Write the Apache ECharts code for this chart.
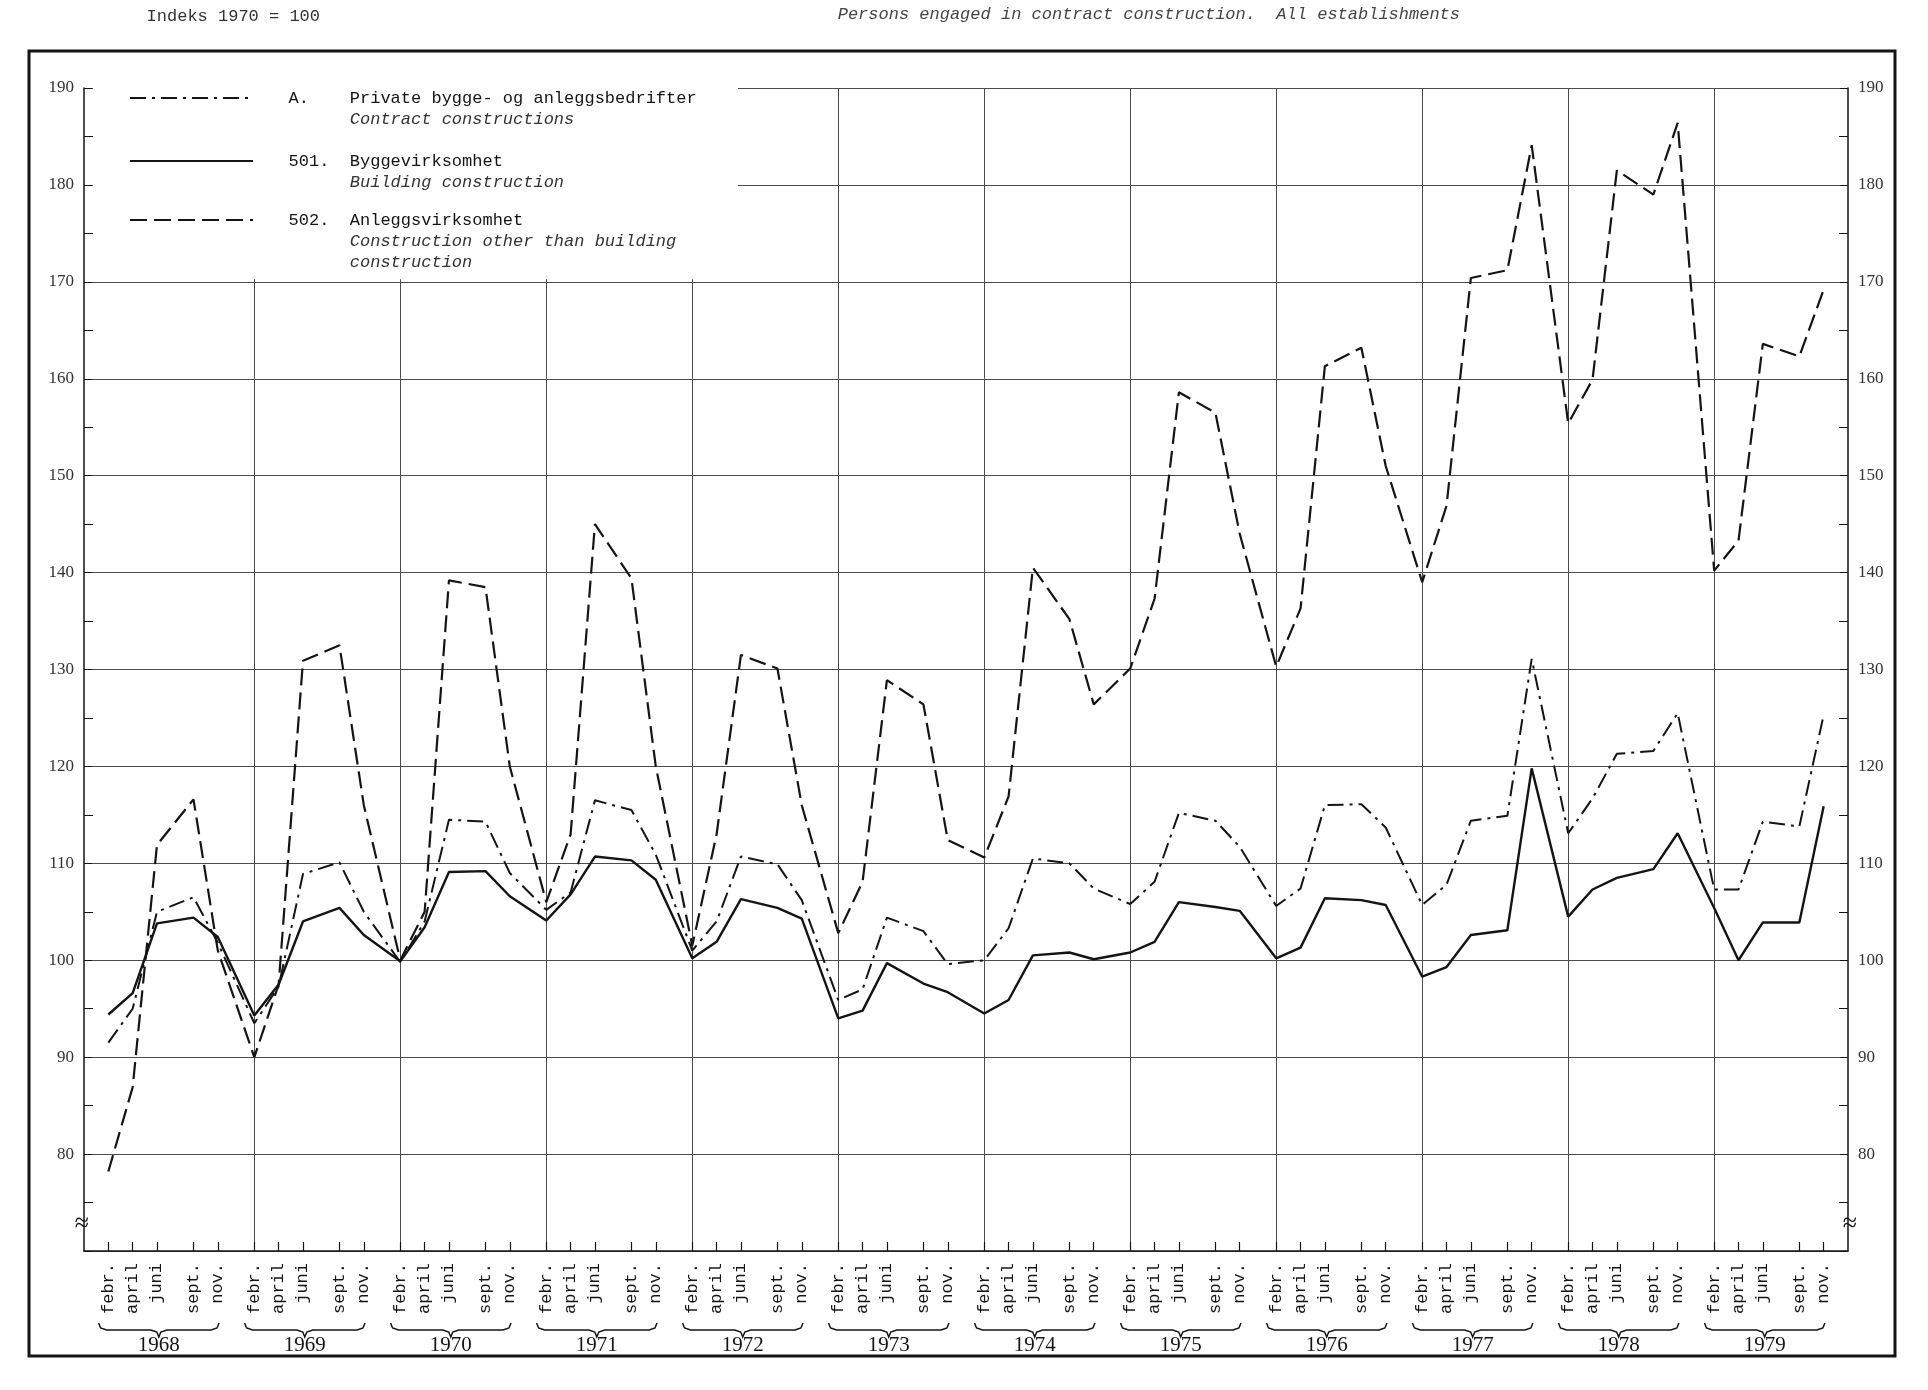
<!DOCTYPE html>
<html>
<head>
<meta charset="utf-8">
<script src="https://cdn.jsdelivr.net/npm/echarts@6/dist/echarts.min.js"></script>
<style>
html,body{margin:0;padding:0;background:#fff;}
#chart{width:1928px;height:1390px;}
</style>
</head>
<body>
<div id="chart"></div>
<script>
// ---------- data ----------
const years = [1968,1969,1970,1971,1972,1973,1974,1975,1976,1977,1978,1979];
const sampleMonths = [2,4,6,9,11];
const monthLabels = ['febr.','april','juni','sept.','nov.'];
const yTickMin = 70, yTickMax = 190, yTickStep = 10;

// A. Private bygge- og anleggsbedrifter (febr, april, juni, sept, nov per year)
const contractA = [
  91.5, 95.0, 105.0, 106.5, 101.8,
  93.5, 97.3, 108.9, 110.1, 105.0,
  99.8, 104.0, 114.5, 114.3, 109.0,
  105.2, 107.0, 116.5, 115.5, 110.9,
  101.0, 104.0, 110.7, 109.9, 106.2,
  95.9, 97.0, 104.4, 103.0, 99.6,
  100.0, 103.3, 110.5, 110.0, 107.4,
  105.8, 108.1, 115.2, 114.4, 111.7,
  105.6, 107.4, 116.0, 116.1, 113.7,
  105.7, 107.8, 114.4, 114.9, 131.1,
  113.1, 116.7, 121.3, 121.6, 125.5,
  107.3, 107.3, 114.3, 113.8, 125.3
];
// 501. Byggevirksomhet
const building501 = [
  94.4, 96.6, 103.8, 104.4, 102.4,
  94.3, 97.5, 104.0, 105.4, 102.6,
  99.9, 103.4, 109.1, 109.2, 106.6,
  104.1, 106.8, 110.7, 110.3, 108.3,
  100.2, 101.9, 106.3, 105.4, 104.3,
  94.0, 94.8, 99.7, 97.6, 96.7,
  94.5, 95.9, 100.5, 100.8, 100.1,
  100.8, 101.9, 106.0, 105.5, 105.1,
  100.2, 101.3, 106.4, 106.2, 105.7,
  98.3, 99.3, 102.6, 103.1, 119.8,
  104.5, 107.3, 108.5, 109.4, 113.1,
  105.4, 100.0, 103.9, 103.9, 115.9
];
// 502. Anleggsvirksomhet
const other502 = [
  78.2, 86.9, 111.9, 116.6, 101.0,
  90.0, 97.5, 130.9, 132.5, 116.0,
  100.0, 105.0, 139.2, 138.5, 120.0,
  106.0, 113.0, 145.0, 139.4, 120.0,
  101.5, 113.0, 131.5, 130.1, 116.0,
  102.8, 108.1, 128.9, 126.4, 112.4,
  110.6, 116.9, 140.5, 135.2, 126.4,
  130.1, 137.3, 158.6, 156.5, 144.0,
  130.3, 136.3, 161.3, 163.2, 151.0,
  139.0, 146.9, 170.4, 171.2, 184.1,
  155.4, 159.9, 181.5, 179.0, 186.4,
  140.2, 143.3, 163.6, 162.3, 169.2
];

// ---------- helpers ----------
const categories = [];
for (let y = 1967; y <= 1980; y++) {
  for (let m = 1; m <= 12; m++) {
    if (y === 1967 && m < 12) continue;
    if (y === 1980 && m > 1) continue;
    categories.push(y + '-' + m);
  }
}
const sampleSet = new Set();
years.forEach(y => sampleMonths.forEach(m => sampleSet.add(y + '-' + m)));
function monthLabel(val) {
  const m = +val.split('-')[1];
  const i = sampleMonths.indexOf(m);
  return (i >= 0 && sampleSet.has(val)) ? monthLabels[i] : '';
}
function toSeries(arr) {
  const out = [];
  years.forEach((y, yi) => sampleMonths.forEach((m, mi) => out.push([y + '-' + m, arr[yi * 5 + mi]])));
  return out;
}
const braceData = years.map(y => [categories.indexOf(y + '-2'), yTickMin, categories.indexOf(y + '-11')]);

// ---------- layout ----------
const W = 1928, H = 1390;
const G = {left: 84, right: 80, top: 88, bottom: 139};
const plotBottom = H - G.bottom;
const pxPerUnit = (plotBottom - G.top) / (yTickMax - yTickMin);
const yPix = v => G.top + (yTickMax - v) * pxPerUnit;

const gridColor = '#4c4c4c';
const ink = '#141414';
const mono = '"Liberation Mono", "DejaVu Sans Mono", monospace';
const serif = '"Liberation Serif", "DejaVu Serif", serif';

const richLegend = {
  n: {fontFamily: mono, fontSize: 17, color: ink, lineHeight: 21},
  e: {fontFamily: mono, fontSize: 17, fontStyle: 'italic', color: '#333', lineHeight: 21}
};
function legendCfg(name, top, fmt) {
  return {
    data: [name], left: 129, top: top, padding: 0,
    itemWidth: 123, itemHeight: 12, selectedMode: false,
    itemStyle: {opacity: 0, borderWidth: 0},
    textStyle: {rich: richLegend}, formatter: fmt
  };
}

const chart = echarts.init(document.getElementById('chart'), null, {renderer: 'canvas'});
const yAxisBase = {
  type: 'value', min: yTickMin, max: yTickMax, interval: yTickStep,
  axisLine: {show: true, lineStyle: {color: ink, width: 1.5}},
  axisTick: {show: true, inside: true, length: 8, lineStyle: {color: ink}},
  minorTick: {show: true, splitNumber: 2, length: 9, lineStyle: {color: ink}},
  axisLabel: {
    fontFamily: serif, fontSize: 17, color: '#333', margin: 10,
    formatter: v => (v === yTickMin ? '' : String(v))
  }
};

chart.setOption({
  backgroundColor: '#fff',
  animation: false,
  color: [ink, ink, ink],
  grid: {left: G.left, right: G.right, top: G.top, bottom: G.bottom, containLabel: false},
  legend: [
    legendCfg('A', 68.5, () => '{e| }\n{n|   A.    Private bygge- og anleggsbedrifter}\n{e|         Contract constructions}'),
    legendCfg('501', 131.5, () => '{e| }\n{n|   501.  Byggevirksomhet}\n{e|         Building construction}'),
    legendCfg('502', 169.5, () => '{e| }\n{e| }\n{n|   502.  Anleggsvirksomhet}\n{e|         Construction other than building}\n{e|         construction}')
  ],
  xAxis: {
    type: 'category', data: categories, boundaryGap: false,
    axisLine: {show: true, lineStyle: {color: ink, width: 1.5}},
    axisTick: {show: true, inside: true, length: 9, interval: (i, v) => sampleSet.has(v), lineStyle: {color: ink, width: 1.2}},
    axisLabel: {
      show: true, rotate: 90, interval: (i, v) => sampleSet.has(v), margin: 12,
      fontFamily: mono, fontSize: 17, color: ink, formatter: monthLabel
    },
    splitLine: {
      show: true,
      interval: (i, v) => { const p = v.split('-'); return p[1] === '2' && +p[0] >= 1969 && +p[0] <= 1979; },
      lineStyle: {color: gridColor, width: 1}
    }
  },
  yAxis: [
    Object.assign({}, yAxisBase, {position: 'left', splitLine: {show: true, lineStyle: {color: gridColor, width: 1}}}),
    Object.assign({}, yAxisBase, {position: 'right', splitLine: {show: false}})
  ],
  series: [
    {name: 'A', type: 'line', data: toSeries(contractA), symbol: 'none', showSymbol: false, z: 3,
     itemStyle: {color: ink}, lineStyle: {color: ink, width: 2, type: [16, 6, 3, 6]}},
    {name: '501', type: 'line', data: toSeries(building501), symbol: 'none', showSymbol: false, z: 3,
     itemStyle: {color: ink}, lineStyle: {color: ink, width: 2.4, type: 'solid'}},
    {name: '502', type: 'line', data: toSeries(other502), symbol: 'none', showSymbol: false, z: 3,
     itemStyle: {color: ink}, lineStyle: {color: ink, width: 2.2, type: [17, 7]}},
    {
      name: 'years', type: 'custom', data: braceData, encode: {x: 0, y: 1}, silent: true, clip: false, z: 3,
      renderItem: function (params, api) {
        const a = api.coord([api.value(0), api.value(1)]);
        const b = api.coord([api.value(2), api.value(1)]);
        const mw = (b[0] - a[0]) / 9;
        const x0 = a[0] - 0.8 * mw, x1 = b[0] + 0.1 * mw;
        const xm = (x0 + x1) / 2;
        const y0 = a[1] + 72, y1 = a[1] + 79, y2 = a[1] + 86;
        const pts = [[x0, y0], [x0 + 2, y1 - 2], [x0 + 8, y1], [xm - 8, y1], [xm - 2, y1 + 2], [xm, y2],
                     [xm + 2, y1 + 2], [xm + 8, y1], [x1 - 8, y1], [x1 - 2, y1 - 2], [x1, y0]];
        return {
          type: 'group',
          children: [
            {type: 'polyline', shape: {points: pts}, style: {stroke: ink, lineWidth: 1.5, fill: null}},
            {type: 'text', style: {text: String(years[params.dataIndex]), x: xm, y: a[1] + 94,
              textAlign: 'center', textVerticalAlign: 'middle', font: '21px ' + serif, fill: ink}}
          ]
        };
      }
    }
  ],
  graphic: [
    {type: 'rect', z: 1, silent: true,
     shape: {x: G.left + 9, y: yPix(190) - 2, width: 738 - (G.left + 9), height: yPix(170) - yPix(190) - 0.5},
     style: {fill: '#fff'}},
    {type: 'rect', z: 5, silent: true, shape: {x: 29, y: 51, width: 1866, height: 1305},
     style: {fill: null, stroke: ink, lineWidth: 3}},
    {type: 'text', z: 6, silent: true, style: {text: '\u2248', x: G.left - 2, y: yPix(72.8), textAlign: 'center', textVerticalAlign: 'middle', font: '26px ' + serif, fill: ink}},
    {type: 'text', z: 6, silent: true, style: {text: '\u2248', x: W - G.right + 2, y: yPix(72.8), textAlign: 'center', textVerticalAlign: 'middle', font: '26px ' + serif, fill: ink}},
    {type: 'text', z: 6, silent: true, style: {text: 'Indeks 1970 = 100', x: 320, y: 16, textAlign: 'right', textVerticalAlign: 'middle', font: '17px ' + mono, fill: '#333'}},
    {type: 'text', z: 6, silent: true, style: {text: 'Persons engaged in contract construction.  All establishments', x: 1460, y: 14, textAlign: 'right', textVerticalAlign: 'middle', font: 'italic 17px ' + mono, fill: '#444'}}
  ]
});
</script>
</body>
</html>
